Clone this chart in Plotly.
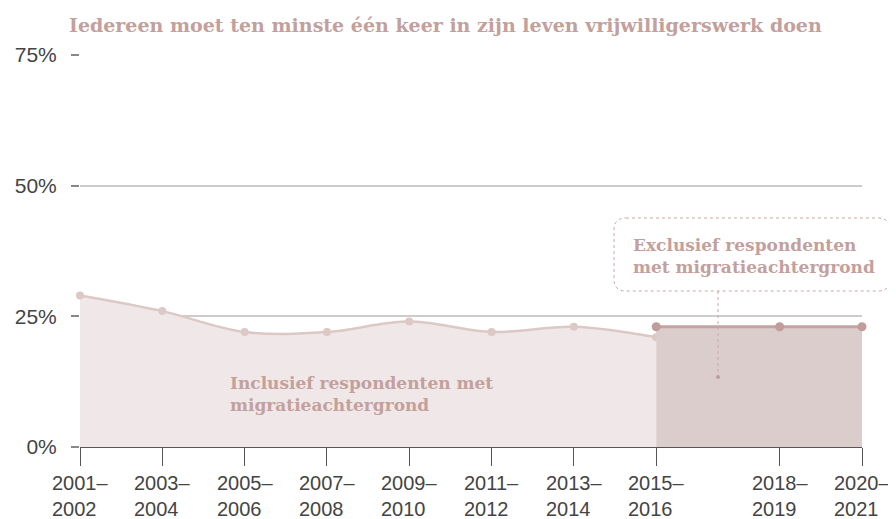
import plotly.graph_objects as go

periods = [2001, 2003, 2005, 2007, 2009, 2011, 2013, 2015, 2018, 2020]
period_labels = ["2001–<br>2002", "2003–<br>2004", "2005–<br>2006", "2007–<br>2008",
                 "2009–<br>2010", "2011–<br>2012", "2013–<br>2014", "2015–<br>2016",
                 "2018–<br>2019", "2020–<br>2021"]

incl_x = [2001, 2003, 2005, 2007, 2009, 2011, 2013, 2015]
incl_y = [29, 26, 22, 22, 24, 22, 23, 21]

excl_x = [2015, 2018, 2020]
excl_y = [23, 23, 23]

y_ticks = [0, 25, 50, 75]
y_tick_labels = ["0%", "25%", "50%", "75%"]

title = "Iedereen moet ten minste één keer in zijn leven vrijwilligerswerk doen"
label_incl = "Inclusief respondenten met<br>migratieachtergrond"
label_excl = "Exclusief respondenten<br>met migratieachtergrond"

TITLE_COL = "#c3a09c"
INCL_FILL = "#f0e8e8"
INCL_LINE = "#dcc8c5"
EXCL_FILL = "#dccdcd"
EXCL_LINE = "#c4a3a1"
SERIF = "DejaVu Serif"
SANS = "Liberation Sans"

fig = go.Figure()
fig.add_trace(go.Scatter(
    x=incl_x, y=incl_y, mode="lines+markers", fill="tozeroy", cliponaxis=False,
    fillcolor=INCL_FILL, line=dict(color=INCL_LINE, width=2.5, shape="spline", smoothing=1.0),
    marker=dict(color=INCL_LINE, size=8), hoverinfo="skip", showlegend=False))
fig.add_trace(go.Scatter(
    x=excl_x, y=excl_y, mode="lines+markers", fill="tozeroy", cliponaxis=False,
    fillcolor=EXCL_FILL, line=dict(color=EXCL_LINE, width=3),
    marker=dict(color="#c09c9a", size=9), hoverinfo="skip", showlegend=False))

# page offset from default body margin
OFF = 8
# plot area geometry (page pixels) used for paper conversions
L, R, T, B = 80, 862, 55, 447
W, H = R - L, B - T
FW, FH = 896 - OFF, 519 - OFF
def px(x):
    return (x - L) / W
def py(y):
    return (B - y) / H

annotations = []
for p, lab in zip(periods, period_labels):
    annotations.append(dict(x=p, xref="x", y=py(470), yref="paper", text=lab,
                            showarrow=False, xanchor="center", yanchor="top", align="left",
                            font=dict(family=SANS, size=20, color="#444444")))
annotations.append(dict(x=px(67), y=py(25), xref="paper", yref="paper", text="<b>" + title + "</b>",
                        showarrow=False, xanchor="left", yanchor="middle",
                        font=dict(family=SERIF, size=19, color=TITLE_COL)))
annotations.append(dict(x=px(228), y=py(394), xref="paper", yref="paper", text="<b>" + label_incl + "</b>",
                        showarrow=False, xanchor="left", yanchor="middle", align="left",
                        font=dict(family=SERIF, size=17, color=TITLE_COL)))
annotations.append(dict(x=px(631), y=py(256), xref="paper", yref="paper", text="<b>" + label_excl + "</b>",
                        showarrow=False, xanchor="left", yanchor="middle", align="left",
                        font=dict(family=SERIF, size=17, color=TITLE_COL)))

# rounded dashed box
x0, x1, y0, y1 = px(614), px(890), py(291), py(218)
rx, ry = 12 / W, 12 / H
path = (f"M {x0+rx},{y1} L {x1-rx},{y1} Q {x1},{y1} {x1},{y1-ry} "
        f"L {x1},{y0+ry} Q {x1},{y0} {x1-rx},{y0} L {x0+rx},{y0} Q {x0},{y0} {x0},{y0+ry} "
        f"L {x0},{y1-ry} Q {x0},{y1} {x0+rx},{y1} Z")
shapes = [
    dict(type="path", path=path, xref="paper", yref="paper",
         line=dict(color="#c9a9a6", width=1, dash="dot")),
    dict(type="line", xref="paper", yref="paper", x0=px(718), x1=px(718), y0=py(291), y1=py(377),
         line=dict(color="#c9a9a6", width=1, dash="dot")),
    dict(type="circle", xref="paper", yref="paper", x0=px(716), x1=px(720), y0=py(379), y1=py(375),
         fillcolor="#c09c9a", line=dict(width=0)),
]

fig.update_layout(
    width=FW, height=FH,
    margin=dict(l=L - OFF, r=FW - (R - OFF), t=T - OFF, b=FH - (B - OFF), autoexpand=False),
    paper_bgcolor="white", plot_bgcolor="white",
    annotations=annotations, shapes=shapes,
    xaxis=dict(range=[2001, 2020], tickvals=periods, showticklabels=False, automargin=False,
               ticks="outside", ticklen=18, tickcolor="#555555", tickwidth=1,
               showgrid=False, zeroline=False, showline=True, linecolor="#555555", linewidth=1),
    yaxis=dict(range=[0, 75], tickvals=y_ticks, ticktext=y_tick_labels, automargin=False,
               ticks="outside", ticklen=8, tickcolor="#888888", tickwidth=2,
               ticklabelstandoff=10,
               tickfont=dict(family=SANS, size=21, color="#444444"),
               showgrid=True, gridcolor="#cccccc", gridwidth=1.5, zeroline=False, showline=False),
)

fig.write_html("out.html")
